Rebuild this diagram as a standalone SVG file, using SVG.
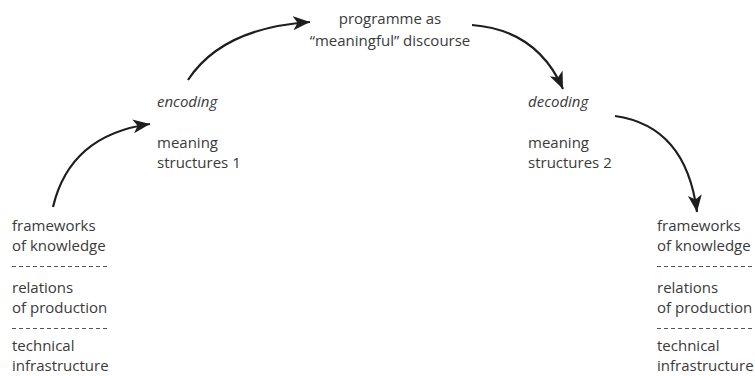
<svg xmlns="http://www.w3.org/2000/svg" width="755" height="376" viewBox="0 0 755 376">
  <style>
    text { font-family: "Open Sans", "Noto Sans", sans-serif; font-size: 15px; fill: #3a3a3a; }
    .it { font-style: italic; }
    .mid { text-anchor: middle; }
    .sep { stroke: #555; stroke-width: 1; stroke-dasharray: 4 3; fill: none; }
    .arc { stroke: #1e1e1e; stroke-width: 2.2; fill: none; marker-end: url(#head); }
  </style>
  <defs>
    <marker id="head" markerUnits="userSpaceOnUse" markerWidth="20" markerHeight="16" refX="17" refY="7" orient="auto">
      <path d="M0,0 L17,7 L0,14 L4.5,7 z" fill="#1e1e1e"/>
    </marker>
  </defs>
  <rect width="755" height="376" fill="#ffffff"/>

  <g id="connectors">
    <path class="arc" d="M53,207 Q70,135 150,124"/>
    <path class="arc" d="M188,80 Q222,28 310,22"/>
    <path class="arc" d="M472,25 Q537,30 563,89"/>
    <path class="arc" d="M615,116 Q686,126 697,212"/>
  </g>

  <g id="programme">
    <text class="mid" x="390" y="24">programme as</text>
    <text class="mid" x="390" y="46">“meaningful” discourse</text>
  </g>

  <g id="encoding">
    <text class="it" x="157" y="107">encoding</text>
    <text x="157" y="148">meaning</text>
    <text x="157" y="168">structures 1</text>
  </g>

  <g id="decoding">
    <text class="it" x="528" y="107">decoding</text>
    <text x="528" y="148">meaning</text>
    <text x="528" y="168">structures 2</text>
  </g>

  <g id="production-side">
    <text x="12" y="231">frameworks</text>
    <text x="12" y="251">of knowledge</text>
    <line class="sep" x1="12" y1="266.5" x2="108" y2="266.5"/>
    <text x="12" y="293">relations</text>
    <text x="12" y="313">of production</text>
    <line class="sep" x1="12" y1="328.5" x2="108" y2="328.5"/>
    <text x="12" y="351">technical</text>
    <text x="12" y="371">infrastructure</text>
  </g>

  <g id="reception-side">
    <text x="657" y="231">frameworks</text>
    <text x="657" y="251">of knowledge</text>
    <line class="sep" x1="657" y1="266.5" x2="753" y2="266.5"/>
    <text x="657" y="293">relations</text>
    <text x="657" y="313">of production</text>
    <line class="sep" x1="657" y1="328.5" x2="753" y2="328.5"/>
    <text x="657" y="351">technical</text>
    <text x="657" y="371">infrastructure</text>
  </g>
</svg>
